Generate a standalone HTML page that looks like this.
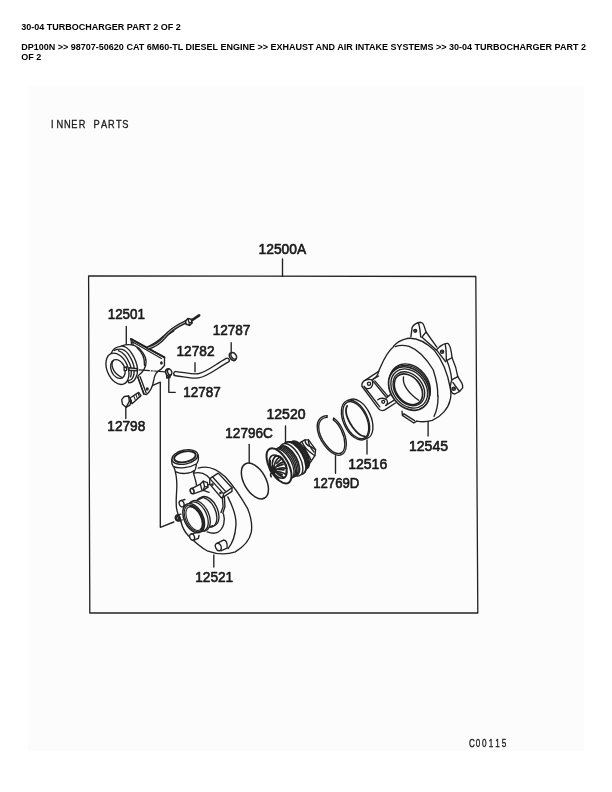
<!DOCTYPE html>
<html><head><meta charset="utf-8">
<style>
html,body{margin:0;padding:0;background:#fff;}
body{width:612px;height:792px;position:relative;overflow:hidden;font-family:"Liberation Sans",sans-serif;}
.h1{position:absolute;left:21.3px;top:21.6px;font-size:9px;font-weight:bold;color:#000;line-height:10px;white-space:nowrap;}
.h2{position:absolute;left:21.3px;top:42.9px;width:572px;font-size:9px;font-weight:bold;color:#000;line-height:9.8px;}
#dia{position:absolute;left:28px;top:86px;width:556px;height:665px;background:#fcfcfc;}
svg{position:absolute;left:0;top:0;}
svg *{vector-effect:non-scaling-stroke;}
svg text{font-family:"Liberation Sans",sans-serif;fill:#1a1a1a;stroke:none;}
svg text.lb{font-size:14.4px;stroke:#1a1a1a;stroke-width:0.65px;}
svg text.sm{stroke:#1a1a1a;stroke-width:0.3px;}
.w{fill:#fcfcfc;}
.k{fill:#222;}
.t{stroke-width:0.8;}
.h{stroke-width:1.5;}
#wrap{position:absolute;left:0;top:0;width:612px;height:792px;background:#fff;filter:grayscale(1);}
</style></head><body><div id="wrap">
<div class="h1">30-04 TURBOCHARGER PART 2 OF 2</div>
<div class="h2">DP100N &gt;&gt; 98707-50620 CAT 6M60-TL DIESEL ENGINE &gt;&gt; EXHAUST AND AIR INTAKE SYSTEMS &gt;&gt; 30-04 TURBOCHARGER PART 2 OF 2</div>
<div id="dia"></div>
<svg width="612" height="792" viewBox="0 0 612 792" fill="none" stroke="#222" stroke-width="1.35" stroke-linecap="round" stroke-linejoin="round">
<!-- 00_frame.svg -->
<polygon points="88.6,276 475.8,276.5 477.8,613 89.8,613" stroke-width="1.3"/>
<path d="M282.5 259V276.2"/>
<path d="M126.3 326.5V344.3"/>
<path d="M231.2 342.7V352.7"/>
<path d="M195 362.7V371.8"/>
<path d="M168.8 378V392.3H175.3"/>
<path d="M125.8 406.8V418.5"/>
<path d="M285.5 426V441.8"/>
<path d="M249.2 444.3V462.7"/>
<path d="M367 439.8V454"/>
<path d="M335.5 455.7V473.2"/>
<path d="M428.1 421.6V436"/>
<path d="M213.8 555V567"/>
<path d="M153.3 385.2L160.3 382.2V527.3L173.8 522"/>
<!-- 01_labels.svg -->
<text class="sm" transform="scale(0.85 1)" text-anchor="middle" font-size="10.9" x="61.47 70.47 79.18 87.41 96.47 105.06 113.76 122.35 131.06 139.76 147.41" y="127.6">INNER PARTS</text>
<text class="sm" transform="scale(0.74 1)" text-anchor="middle" font-size="11" x="637.78 646.08 654.32 663.51 672.30 680.95" y="746.7">C00115</text>
<text class="lb" x="258.6" y="254.2" textLength="47.6" lengthAdjust="spacingAndGlyphs">12500A</text>
<text class="lb" x="107.7" y="319.2" textLength="37.2" lengthAdjust="spacingAndGlyphs">12501</text>
<text class="lb" x="212.7" y="335.2" textLength="37.7" lengthAdjust="spacingAndGlyphs">12787</text>
<text class="lb" x="176.5" y="355.8" textLength="38" lengthAdjust="spacingAndGlyphs">12782</text>
<text class="lb" x="183.2" y="396.8" textLength="37.5" lengthAdjust="spacingAndGlyphs">12787</text>
<text class="lb" x="107.3" y="431" textLength="38" lengthAdjust="spacingAndGlyphs">12798</text>
<text class="lb" x="266.5" y="419" textLength="39" lengthAdjust="spacingAndGlyphs">12520</text>
<text class="lb" x="225.3" y="437.5" textLength="47.5" lengthAdjust="spacingAndGlyphs">12796C</text>
<text class="lb" x="348.2" y="469.2" textLength="39" lengthAdjust="spacingAndGlyphs">12516</text>
<text class="lb" x="313.2" y="488.2" textLength="46.2" lengthAdjust="spacingAndGlyphs">12769D</text>
<text class="lb" x="409" y="451.2" textLength="39" lengthAdjust="spacingAndGlyphs">12545</text>
<text class="lb" x="195.2" y="582.4" textLength="38" lengthAdjust="spacingAndGlyphs">12521</text>
<!-- 09_bracket.svg -->
<g transform="translate(100,334) scale(0.11765)">
<!-- tube from bracket -->
<path d="M405 118C440 100 470 88 500 62C530 35 560 5 620 -30" stroke-width="3.2"/>
<path d="M405 118C440 100 470 88 500 62C530 35 560 5 620 -30" stroke="#fcfcfc" stroke-width="0.7"/>
<!-- plate -->
<path class="w" d="M262 42L548 198L548 268L520 298C480 320 465 340 455 400C448 440 425 490 395 515L375 510L322 368L285 200Z"/>
<path d="M262 42L548 198" stroke-width="2"/>
<path d="M278 68L522 208"/>
<path d="M322 368L372 512"/>
<path d="M340 362L392 500" />
<ellipse cx="522" cy="246" rx="6" ry="9" />
<ellipse cx="402" cy="468" rx="7" ry="9" />
<path d="M278 68L285 110"/>
</g>
<!-- 10_actuator.svg -->
<g transform="translate(102,340) scale(0.0817)">
<!-- can body dome -->
<path class="w" d="M235 75C280 55 340 50 400 70C470 100 540 190 540 270C540 330 500 400 440 440L330 525L200 300Z" stroke="none"/>
<path d="M240 72C290 55 345 50 400 70C470 100 540 190 540 265C540 320 505 390 440 440"/>
<path d="M430 95C490 150 525 230 520 310"/>
<!-- crimp ring -->
<path class="w" d="M112 165C125 120 165 85 240 75C330 70 420 230 435 350C440 440 400 520 330 525Z"/>
<path d="M150 128C200 105 270 100 320 170C365 235 395 300 395 365C395 440 370 495 325 497"/>
<path d="M200 130C260 150 310 220 340 290C360 340 365 400 350 450"/>
<!-- front face -->
<ellipse class="w" cx="189" cy="352" rx="127" ry="201" transform="rotate(-23 189 352)"/>
<ellipse cx="195" cy="355" rx="83" ry="120" transform="rotate(-23 195 355)"/>
<path d="M140 252C105 290 120 400 250 462"/>
<!-- rod stub -->
<path class="w" d="M270 335L300 330L300 372L272 375Z" />
<path class="w" d="M330 340L430 352L430 378L330 370Z"/>
</g>
<!-- 11_centerline.svg -->
<!-- centerline -->
<path d="M139 369.9L149.4 370.6M151.3 370.8L152.3 370.9M154 371L165.3 371.9" stroke-width="1.2"/>
<!-- 12_hose.svg -->
<g transform="translate(150,296) scale(0.16667)">
<!-- tube upper continuing -->
<path d="M-10 312C30 300 60 280 85 250C110 215 150 185 215 155" stroke-width="3.4"/>
<path d="M-10 312C30 300 60 280 85 250C110 215 150 185 215 155" stroke="#fcfcfc" stroke-width="0.7"/>
<path d="M250 146L295 116" stroke-width="2.6"/>
<path class="w" d="M213 151L228 135L248 139L252 162L237 176L217 170Z" stroke-width="1.6"/>
<path d="M228 135L233 156L237 176M233 156L252 162" stroke-width="1.2"/>
<!-- hose -->
<path d="M155 466C200 470 250 484 290 479C340 472 400 420 463 386" stroke-width="5.6" stroke-linecap="round"/>
<path d="M155 466C200 470 250 484 290 479C340 472 400 420 463 386" stroke="#fcfcfc" stroke-width="2.9" stroke-linecap="round"/>
<!-- clamps -->
<ellipse class="w" cx="496" cy="364" rx="17" ry="26" transform="rotate(-35 496 364)" stroke-width="1.6"/>
<ellipse class="w" cx="502" cy="359" rx="14" ry="22" transform="rotate(-35 502 359)" stroke-width="1.4"/>
<ellipse class="w" cx="111" cy="459" rx="16" ry="22" transform="rotate(-20 111 459)" stroke-width="1.6"/>
<ellipse class="w" cx="118" cy="456" rx="12" ry="18" transform="rotate(-20 118 456)" stroke-width="1.4"/>
<path d="M100 478L100 492L120 489L120 476" />
</g>
<!-- 13_bolt.svg -->
<g transform="translate(80,296) scale(0.16667)">
<path class="w" d="M300 612L352 578L366 598L312 646Z"/>
<path d="M322 598L331 622M335 590L344 614M348 582L357 606" stroke-width="1.1"/>
<path class="w" d="M250 622L266 603L292 600L306 626L300 655L276 668L255 650Z"/>
<path d="M292 600L296 632L276 668M296 632L306 626" />
</g>
<!-- 20_rings.svg -->
<!-- O-ring 12796C -->
<ellipse cx="254.9" cy="481" rx="10.9" ry="19.6" transform="rotate(-29.7 254.9 481)" stroke-width="1.5"/>
<!-- snap ring 12769D -->
<g transform="translate(300,384) scale(0.16667)">
<path d="M162 190C130 190 103 215 103 255C103 330 180 428 232 428C262 428 278 400 278 362C278 300 240 230 202 205" />
<path d="M162 200C135 200 112 222 112 256C112 325 184 418 231 418C255 418 269 395 269 362C269 305 235 240 200 215" />
<path d="M162 190L162 200M202 205L200 215"/>
</g>
<!-- ring 12516 -->
<g transform="translate(336,394) scale(0.07190)">
<ellipse class="w" cx="317" cy="347" rx="169" ry="295" transform="rotate(-24.7 317 347)"/>
<ellipse class="w" cx="272" cy="362" rx="169" ry="295" transform="rotate(-24.7 272 362)"/>
<ellipse cx="275" cy="363" rx="152" ry="276" transform="rotate(-24.7 275 363)"/>
<path d="M155 165C120 230 150 340 230 460C290 545 350 590 400 590" stroke-width="1.8"/>
</g>
<!-- 30_cartridge.svg -->
<g transform="translate(262,436) scale(0.09149)">
<!-- turbine wheel -->
<path class="w" d="M420 70L470 42L508 42L586 150L578 215L540 272L490 340L440 350Z"/>
<path d="M470 42C470 80 500 110 540 120M508 42C500 80 530 130 570 175M440 70C460 120 500 160 555 200M460 130C490 180 520 220 540 272M430 130C460 190 480 250 490 340M540 120L586 150M555 200L578 215M500 230L520 300" />
<!-- back rings -->
<ellipse class="w" cx="408" cy="209" rx="84" ry="168" transform="rotate(-29 408 209)" stroke-width="1.6"/>
<ellipse class="w" cx="397" cy="215" rx="85" ry="170" transform="rotate(-29 397 215)" stroke-width="1.5"/>
<ellipse class="w" cx="386" cy="221" rx="86" ry="172" transform="rotate(-29 386 221)" stroke-width="1.5"/>
<ellipse class="w" cx="375" cy="228" rx="87" ry="175" transform="rotate(-29 375 228)" stroke-width="1.5"/>
<ellipse class="w" cx="365" cy="235" rx="92" ry="188" transform="rotate(-29 365 235)" stroke-width="1.5"/>
<!-- white flange B -->
<ellipse class="w" cx="354" cy="242" rx="96" ry="196" transform="rotate(-29 354 242)" stroke-width="1.7"/>
<ellipse class="w" cx="320" cy="260" rx="96" ry="196" transform="rotate(-29 320 260)" stroke-width="1.4"/>
<!-- hatch band -->
<ellipse class="w" cx="294" cy="272" rx="88" ry="180" transform="rotate(-29 294 272)" stroke-width="1.7"/>
<ellipse class="w" cx="279" cy="280" rx="88" ry="180" transform="rotate(-29 279 280)" stroke-width="1.4"/>
<ellipse class="w" cx="264" cy="288" rx="88" ry="180" transform="rotate(-29 264 288)" stroke-width="1.4"/>
<ellipse class="w" cx="249" cy="296" rx="88" ry="180" transform="rotate(-29 249 296)" stroke-width="1.4"/>
<ellipse class="w" cx="234" cy="304" rx="88" ry="180" transform="rotate(-29 234 304)" stroke-width="1.4"/>
<!-- front flange -->
<ellipse class="w" cx="186" cy="326" rx="103" ry="212" transform="rotate(-29 186 326)" stroke-width="2"/>
<ellipse class="w" cx="176" cy="335" rx="80" ry="138" transform="rotate(-29 176 335)" stroke-width="1.6"/>
<!-- compressor blades -->
<g stroke-width="1.7">
<path d="M130 380C125 320 150 260 195 225M130 380C150 330 195 290 245 285M130 380C165 355 215 340 270 355M130 380C170 385 225 395 262 420M130 380C160 410 200 440 240 455M130 380C105 330 110 270 140 228M130 380C95 350 80 310 90 270M130 380C120 410 140 445 175 465M130 380C100 390 85 420 100 445"/>
<path d="M140 228C160 215 180 215 195 225M195 225C220 240 238 262 245 285M245 285C262 305 270 330 270 355M270 355L262 420M90 270C75 310 75 350 95 385M160 300L200 260M170 330L230 310M180 365L240 370M170 400L220 425"/>
</g>
<ellipse class="k" cx="128" cy="382" rx="20" ry="24"/>
</g>
<!-- 40_turbine.svg -->
<!-- T_right -->
<g transform="translate(400,316) scale(0.11438)">
<!-- volute outer & inner -->
<path d="M-56 264C-30 230 5 210 60 197C140 185 220 225 300 300C370 385 420 520 440 630"/>
<path d="M-40 268C-10 255 35 255 80 265C160 295 230 370 290 470C320 560 332 640 330 700"/>
<!-- top lug -->
<path d="M95 182L106 100C120 75 150 58 180 55C195 58 205 70 208 80L228 140L192 185"/>
<path d="M160 62C175 90 175 140 182 185"/>
<circle cx="133" cy="130" r="13"/><circle cx="133" cy="130" r="6" stroke-width="1"/>
<path d="M228 140L322 272M195 187L318 298"/>
<!-- second lug -->
<path d="M318 298L345 270C370 250 395 238 420 240C438 255 448 290 455 365L410 388"/>
<path d="M395 245C405 290 405 340 405 385"/>
<circle cx="368" cy="312" r="14"/><circle cx="368" cy="312" r="6" stroke-width="1"/>
<path d="M322 300L400 400"/>
<path d="M455 365C480 420 498 480 505 530M410 388C435 450 448 500 452 560"/>
<!-- third lug -->
<path d="M505 530L540 585C548 600 550 615 548 628L520 660L480 682C465 680 452 672 448 660L440 610L452 558"/>
<path d="M452 558L505 530M462 580L520 660"/>
<circle cx="470" cy="636" r="14"/><circle cx="470" cy="636" r="6" stroke-width="1"/>
</g>
<!-- T_left -->
<g transform="translate(356,346) scale(0.11438)">
<!-- flange -->
<path d="M198 222L82 298C60 310 48 330 52 352L195 545C210 565 235 568 252 558L345 498"/>
<path d="M70 352L208 532"/>
<path d="M82 298C100 292 125 290 140 296L268 452"/>
<path d="M140 296C150 320 150 345 130 365C120 372 100 375 85 368"/>
<path d="M150 290L198 262M165 305L280 440"/>
<circle cx="114" cy="330" r="14"/>
<path d="M190 470C215 450 250 455 268 470C280 490 275 510 260 520"/>
<circle cx="238" cy="488" r="13"/>
<path d="M260 520L330 475"/>
<path d="M268 452L300 425"/>
<!-- volute left side -->
<path d="M198 222C230 150 260 60 330 5"/>
<path d="M150 290C170 280 190 260 198 222"/>
</g>
<!-- T_bot : bore rings -->
<g transform="translate(390,366) scale(0.11438)">
<ellipse cx="175" cy="170" rx="160" ry="204" transform="rotate(-38 175 170)"/>
<ellipse cx="171" cy="184" rx="161" ry="205" transform="rotate(-38 171 184)"/>
<ellipse class="w" cx="166" cy="197" rx="160" ry="206" transform="rotate(-38 166 197)" stroke-width="1.7"/>
<ellipse cx="168" cy="197" rx="143" ry="186" transform="rotate(-38 168 197)"/>
<ellipse cx="165" cy="199" rx="121" ry="163" transform="rotate(-38 165 199)" />
<ellipse cx="161" cy="204" rx="106" ry="149" transform="rotate(-38 161 204)" stroke-width="1.7"/>
<path d="M118 95C110 150 140 220 250 300"/>
<!-- tab -->
<path d="M105 395L108 432L208 498L235 482M108 432L122 418L215 478"/>
<!-- bottom of volute -->
<path d="M527 192C535 240 535 270 525 300C510 370 450 440 370 475C320 490 270 490 235 482"/>
<path d="M420 262C421 330 405 400 385 440"/>
</g>
<!-- 50_compressor.svg -->
<g transform="translate(164,442) scale(0.13072)">
<!-- body outer -->
<path d="M262 200C330 178 400 200 470 268C540 345 600 440 640 510C665 570 675 640 668 690C655 750 615 800 545 840C480 862 400 858 330 832C270 800 220 750 185 715C160 690 140 650 130 610"/>
<path d="M488 420C530 500 555 580 550 640C545 720 520 780 490 815"/>
<path d="M455 550C470 600 460 660 410 692C380 705 350 695 330 688"/>
<!-- neck -->
<path d="M75 188C90 230 100 290 98 350C96 400 90 440 95 500C100 540 112 570 130 610"/>
<path d="M248 172C246 200 240 218 225 238C235 270 245 300 248 330"/>
<path d="M228 238C260 230 300 235 330 258L352 282"/>
<path d="M92 228C130 248 200 244 232 218"/>
<!-- outlet rim -->
<path class="w" d="M58 135C58 160 62 175 70 186C110 208 200 198 250 166C262 150 265 120 262 100Z"/>
<ellipse class="w" cx="160" cy="115" rx="101" ry="53" transform="rotate(-12 160 115)"/>
<ellipse cx="160" cy="113" rx="84" ry="40" transform="rotate(-12 160 113)" stroke-width="1.9"/>
<!-- block -->
<path class="w" d="M350 280L415 238L520 350L520 378L452 422L440 428L350 322Z"/>
<path d="M350 280L455 395L520 350M455 395L452 422M372 268L472 380"/>
<circle cx="370" cy="326" r="5"/><circle cx="432" cy="390" r="5"/>
<path d="M446 422L452 495L436 540M462 418L466 495L450 545"/>
<!-- small fitting -->
<path class="w" d="M215 354L278 322L300 300L332 310L336 345L300 370L224 396Z"/>
<ellipse class="w" cx="215" cy="375" rx="14" ry="21" transform="rotate(-20 215 375)" stroke-width="1.6"/>
<path d="M278 322L290 366M300 300L310 340L300 370M310 340L336 345"/>
<path d="M336 330L352 322M300 370L345 385"/>
<!-- inlet cylinder back rings -->
<ellipse class="w" cx="338" cy="530" rx="72" ry="120" transform="rotate(-25 338 530)"/>
<ellipse class="w" cx="322" cy="538" rx="72" ry="120" transform="rotate(-25 322 538)"/>
<path class="w" d="M190 477L300 422L380 632L300 672Z" stroke="none"/>
<path d="M190 477L300 424M292 676L372 640"/>
<ellipse class="w" cx="268" cy="565" rx="75" ry="124" transform="rotate(-25 268 565)"/>
<ellipse class="w" cx="256" cy="571" rx="72" ry="120" transform="rotate(-25 256 571)"/>
<!-- lugs -->
<path class="w" d="M135 448L165 440L180 490L150 496Z" stroke="none"/>
<ellipse class="w" cx="135" cy="472" rx="18" ry="25" transform="rotate(-20 135 472)"/>
<path d="M128 449L160 440M150 494L172 488"/>
<ellipse class="w" cx="105" cy="582" rx="17" ry="22" transform="rotate(-20 105 582)" stroke-width="1.8"/>
<ellipse cx="105" cy="582" rx="8" ry="11" transform="rotate(-20 105 582)"/>
<path d="M100 560L130 552M116 602L140 596"/>
<path class="w" d="M215 703L250 695L262 740L225 752Z" stroke="none"/>
<ellipse class="w" cx="215" cy="727" rx="18" ry="25" transform="rotate(-20 215 727)"/>
<path d="M208 704L245 694M230 750L262 738L268 715"/>
<!-- inlet front ring -->
<ellipse class="w" cx="227" cy="583" rx="72" ry="119" transform="rotate(-26 227 583)" stroke-width="1.5"/>
<ellipse cx="229" cy="584" rx="63" ry="109" transform="rotate(-26 229 584)" stroke-width="1.1"/>
<ellipse cx="232" cy="586" rx="54" ry="98" transform="rotate(-26 232 586)" stroke-width="1.1"/>
<path d="M200.3 491.0A56 101 -26 0 1 282.3 670.1" stroke-width="2.2"/>
<!-- plug -->
<path class="w" d="M405 775L455 750C475 752 488 770 482 812L435 832Z"/>
<ellipse class="w" cx="416" cy="803" rx="21" ry="30" transform="rotate(-25 416 803)"/>
</g>
</svg>
</div>
</body></html>
